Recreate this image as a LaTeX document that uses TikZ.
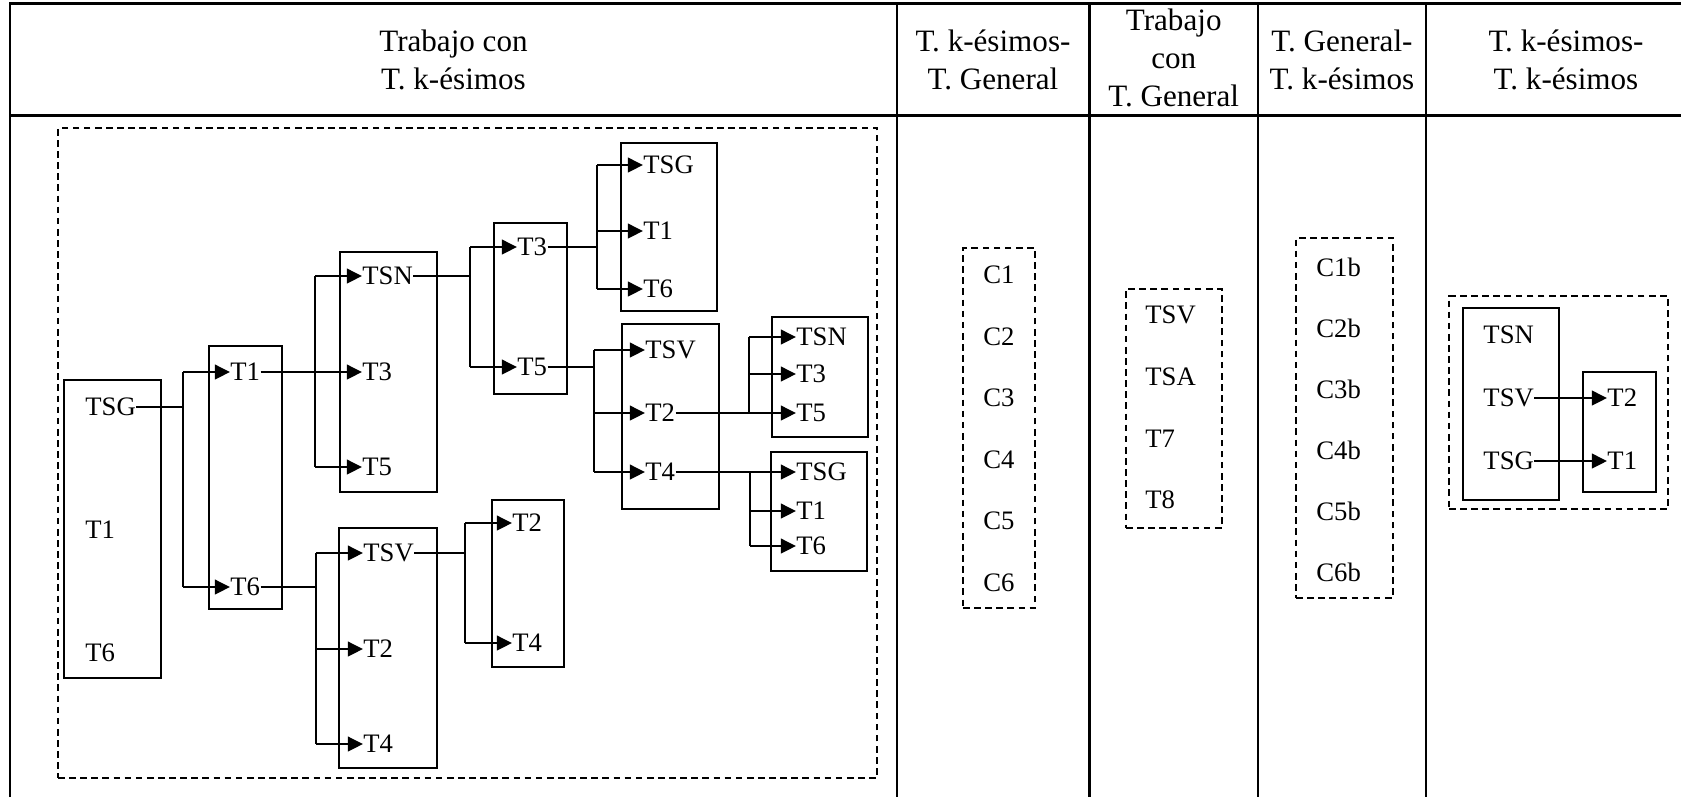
\documentclass[tikz,border=0pt]{standalone}
\usepackage{fontspec}
\setmainfont{Liberation Serif}
\usetikzlibrary{arrows.meta,fit}

\begin{document}
\begin{tikzpicture}[
  x=0.45pt,y=-0.45pt,
  rule/.style={line width=1.3pt},
  tbox/.style={draw,line width=0.8pt,inner sep=0pt},
  grp/.style={draw,dash pattern=on 3pt off 2pt,line width=0.75pt,inner sep=0pt},
  item/.style={anchor=west,inner sep=0pt,font=\fontsize{12}{14}\selectfont},
  head/.style={align=center,inner sep=0pt,font=\fontsize{14}{17}\selectfont},
  wire/.style={line width=0.8pt},
  flow/.style={wire,-{Triangle[length=6.8pt,width=6.6pt]}}
]
\useasboundingbox (0,0) rectangle (1681,797);

% table
\draw[rule] (10,797) -- (10,3.3) -- (1681,3.3);
\draw[rule] (10,115.7) -- (1681,115.7);
\foreach \x in {897,1089.5,1258,1426}{\draw[rule] (\x,3.3) -- (\x,797);}

\node[head] (hA) at (453.5,60) {Trabajo con\\T. k-ésimos};
\node[head] (hB) at (993,60) {T. k-ésimos-\\T. General};
\node[head] (hC) at (1173.7,58) {Trabajo\\con\\T. General};
\node[head] (hD) at (1342,60) {T. General-\\T. k-ésimos};
\node[head] (hE) at (1566,60) {T. k-ésimos-\\T. k-ésimos};

% first column
\node[grp,fit={(58,128) (877,778)}] (grpA) {};

\node[tbox,fit={(64,380) (161,678)}] (bxA) {};
\node[item] (a1) at (85,407) {TSG};
\node[item] (a2) at (85,530) {T1};
\node[item] (a3) at (85,653) {T6};

\node[tbox,fit={(209,346) (282,609)}] (bxB) {};
\node[item] (b1) at (230,372) {T1};
\node[item] (b2) at (230,587) {T6};

\node[tbox,fit={(340,252) (437,492)}] (bxC) {};
\node[item] (c1) at (362,276) {TSN};
\node[item] (c2) at (362,372) {T3};
\node[item] (c3) at (362,467) {T5};

\node[tbox,fit={(494,223) (567,394)}] (bxD) {};
\node[item] (d1) at (517,247) {T3};
\node[item] (d2) at (517,367) {T5};

\node[tbox,fit={(621,143) (717,311)}] (bxE) {};
\node[item] (e1) at (643,165) {TSG};
\node[item] (e2) at (643,231) {T1};
\node[item] (e3) at (643,289) {T6};

\node[tbox,fit={(622,324) (719,509)}] (bxF) {};
\node[item] (f1) at (645,350) {TSV};
\node[item] (f2) at (645,413) {T2};
\node[item] (f3) at (645,472) {T4};

\node[tbox,fit={(772,317) (868,437)}] (bxG) {};
\node[item] (g1) at (796,337) {TSN};
\node[item] (g2) at (796,374) {T3};
\node[item] (g3) at (796,413) {T5};

\node[tbox,fit={(771,452) (867,571)}] (bxH) {};
\node[item] (h1) at (796,472) {TSG};
\node[item] (h2) at (796,511) {T1};
\node[item] (h3) at (796,546) {T6};

\node[tbox,fit={(339,528) (437,768)}] (bxI) {};
\node[item] (i1) at (363,553) {TSV};
\node[item] (i2) at (363,649) {T2};
\node[item] (i3) at (363,744) {T4};

\node[tbox,fit={(492,500) (564,667)}] (bxJ) {};
\node[item] (j1) at (512,523) {T2};
\node[item] (j2) at (512,643) {T4};

% branch points
\coordinate (jA) at (183,0);
\coordinate (jB) at (315,0);
\coordinate (jC) at (470,0);
\coordinate (jD) at (597,0);
\coordinate (jE) at (594,0);
\coordinate (jF) at (749,0);
\coordinate (jG) at (750,0);
\coordinate (jH) at (316,0);
\coordinate (jI) at (465,0);

\foreach \s/\j/\top/\bot in {a1/jA/b1/b2,b1/jB/c1/c3,c1/jC/d1/d2,d1/jD/e1/e3,d2/jE/f1/f3,f2/jF/g1/g3,f3/jG/h1/h3,b2/jH/i1/i3,i1/jI/j1/j2}{
  \draw[wire] (\s.east) -- (\j |- \s.east);
  \draw[wire] (\j |- \top.west) -- (\j |- \bot.west);
}
\foreach \j/\t in {jA/b1,jA/b2,jB/c1,jB/c2,jB/c3,jC/d1,jC/d2,jD/e1,jD/e2,jD/e3,jE/f1,jE/f2,jE/f3,jF/g1,jF/g2,jF/g3,jG/h1,jG/h2,jG/h3,jH/i1,jH/i2,jH/i3,jI/j1,jI/j2}{\draw[flow] (\j |- \t.west) -- (\t.west);}

% second column
\node[grp,fit={(963,248) (1035,608)}] (grpB) {};
\foreach \t [count=\i] in {C1,C2,C3,C4,C5,C6}{\node[item] (k\i) at (983,{275+61.5*(\i-1)}) {\t};}

% third column
\node[grp,fit={(1126,289) (1222,528)}] (grpC) {};
\foreach \t [count=\i] in {TSV,TSA,T7,T8}{\node[item] (g\i) at (1145,{315+61.7*(\i-1)}) {\t};}

% fourth column
\node[grp,fit={(1296,238) (1393,598)}] (grpD) {};
\foreach \t [count=\i] in {C1b,C2b,C3b,C4b,C5b,C6b}{\node[item] (kb\i) at (1316,{267+61*(\i-1)}) {\t};}

% fifth column
\node[grp,fit={(1449,296) (1668,509)}] (grpE) {};
\node[tbox,fit={(1463,308) (1559,500)}] (bxL) {};
\node[item] (l1) at (1483,335) {TSN};
\node[item] (l2) at (1483,398) {TSV};
\node[item] (l3) at (1483,461) {TSG};
\node[tbox,fit={(1583,372) (1656,492)}] (bxM) {};
\node[item] (m1) at (1607,398) {T2};
\node[item] (m2) at (1607,461) {T1};
\draw[flow] (l2) -- (m1);
\draw[flow] (l3) -- (m2);
\end{tikzpicture}
\end{document}
